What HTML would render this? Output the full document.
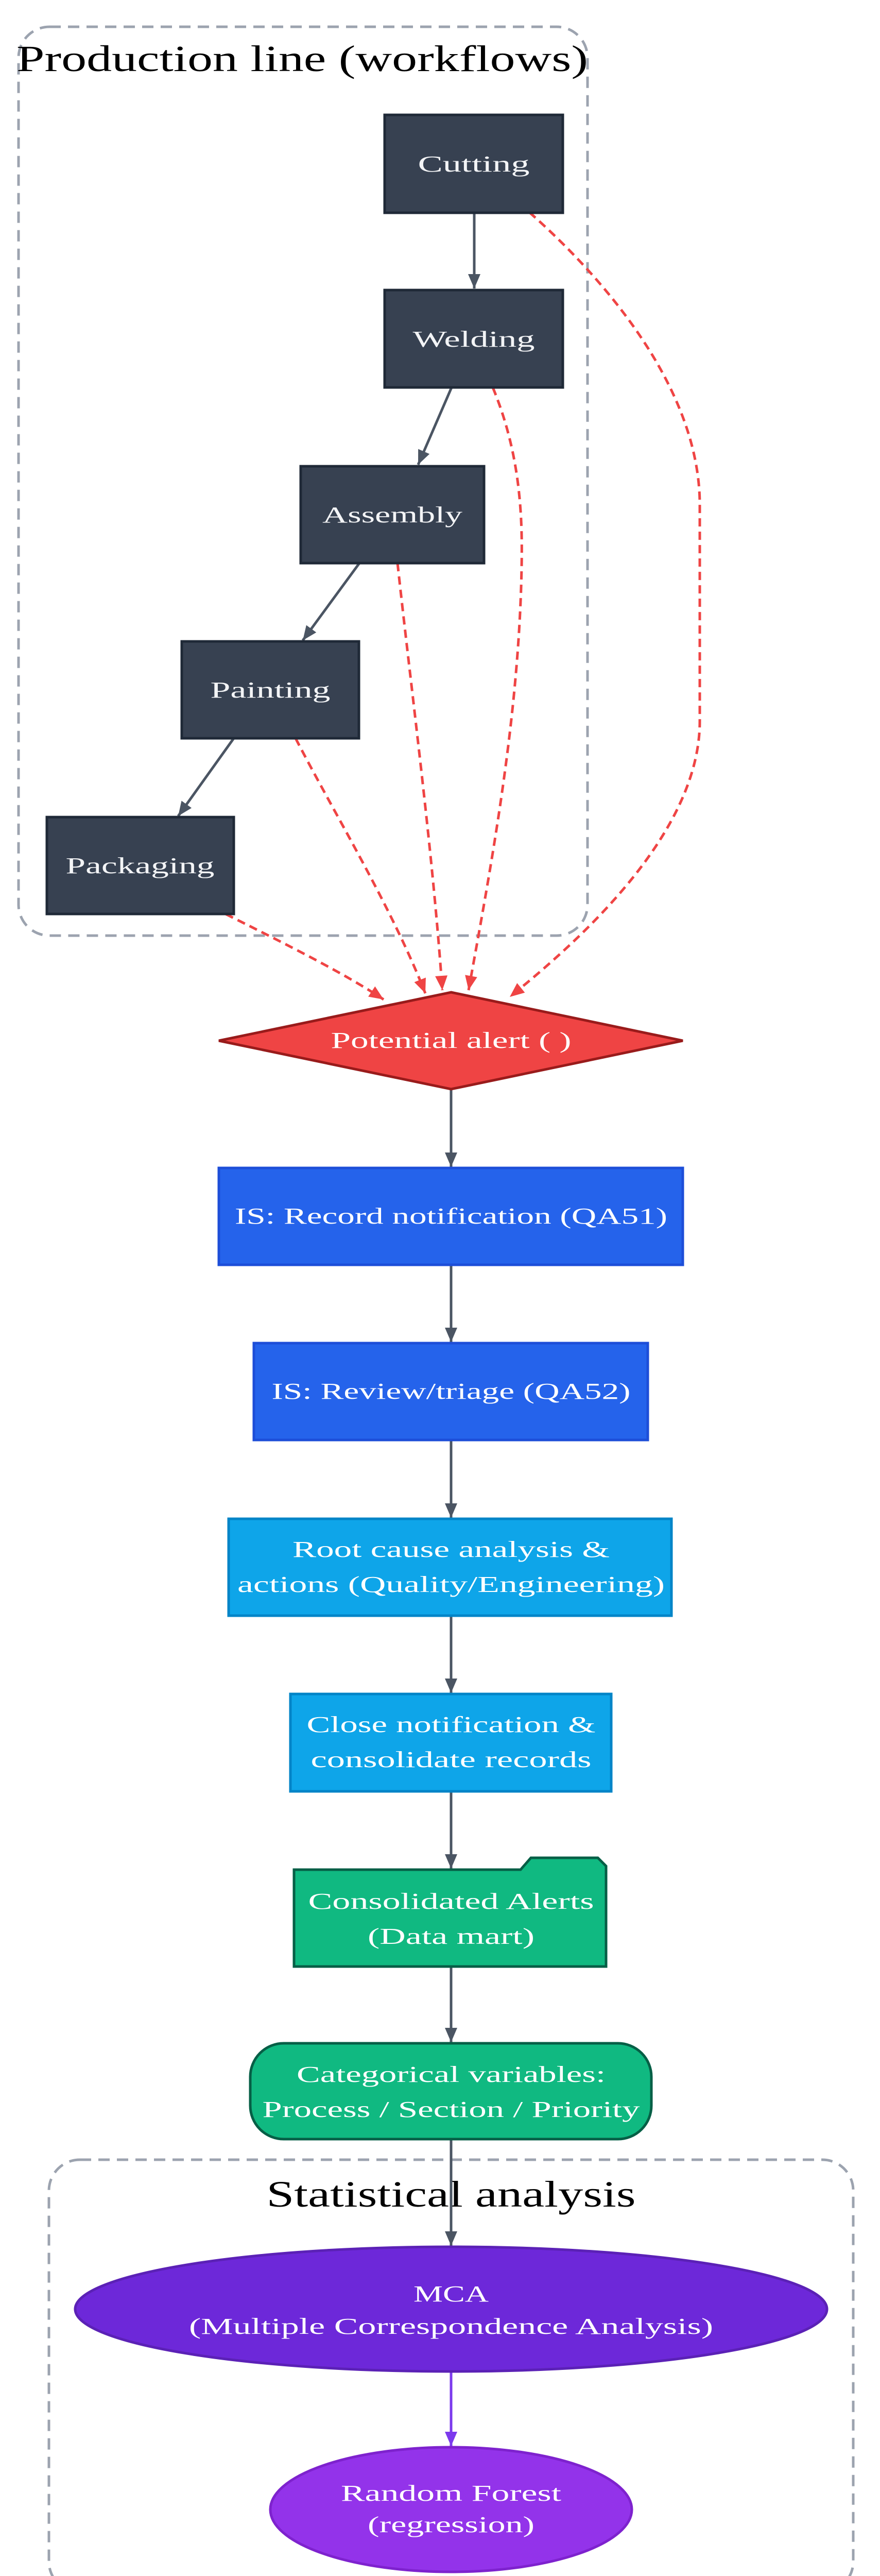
<!DOCTYPE html>
<html><head><meta charset="utf-8"><style>html,body{margin:0;padding:0;background:#fff;width:1709px;height:5076px;overflow:hidden}svg{display:block}</style></head>
<body>
<svg width="1709" height="5076" viewBox="0 0 1709 5076" xmlns="http://www.w3.org/2000/svg" font-family="'Liberation Serif', serif">
<defs>
<marker id="ag" markerWidth="10" markerHeight="10" refX="9" refY="5" orient="auto" markerUnits="userSpaceOnUse" viewBox="0 0 10 10" style="overflow:visible"><path d="M-28,-12 L0,0 L-28,12 Z" transform="translate(9,5)" fill="#4b5563"/></marker>
<marker id="ar" markerWidth="10" markerHeight="10" refX="9" refY="5" orient="auto" markerUnits="userSpaceOnUse" viewBox="0 0 10 10" style="overflow:visible"><path d="M-28,-12 L0,0 L-28,12 Z" transform="translate(9,5)" fill="#ef4444"/></marker>
<marker id="ap" markerWidth="10" markerHeight="10" refX="9" refY="5" orient="auto" markerUnits="userSpaceOnUse" viewBox="0 0 10 10" style="overflow:visible"><path d="M-28,-12 L0,0 L-28,12 Z" transform="translate(9,5)" fill="#7c3aed"/></marker>
</defs>

<!-- clusters -->
<rect x="36" y="52" width="1105" height="1764" rx="60" fill="none" stroke="#9ca3af" stroke-width="5" stroke-dasharray="22,14"/>
<text x="587" y="138" font-size="72" text-anchor="middle" textLength="1110" lengthAdjust="spacingAndGlyphs">Production line (workflows)</text>
<rect x="95" y="4192" width="1562" height="840" rx="60" fill="none" stroke="#9ca3af" stroke-width="5" stroke-dasharray="22,14"/>
<text x="876" y="4283" font-size="72" text-anchor="middle" textLength="717" lengthAdjust="spacingAndGlyphs">Statistical analysis</text>

<!-- red dashed edges -->
<g fill="none" stroke="#ef4444" stroke-width="5" stroke-dasharray="16,10">
<path d="M1028,412 C1150,520 1359,740 1359,980 L1359,1400 C1359,1620 1120,1830 990,1935" marker-end="url(#ar)"/>
<path d="M957,752 C1010,880 1015,1000 1013,1100 C1008,1400 950,1700 910,1922" marker-end="url(#ar)"/>
<path d="M772,1093 C800,1350 840,1650 859,1922" marker-end="url(#ar)"/>
<path d="M574,1433 C650,1580 760,1760 826,1928" marker-end="url(#ar)"/>
<path d="M438,1774 C560,1835 670,1890 745,1940" marker-end="url(#ar)"/>
</g>

<!-- grey edges -->
<g fill="none" stroke="#4b5563" stroke-width="5">
<path d="M921,414 L921,560" marker-end="url(#ag)"/>
<path d="M877,752 L812,902" marker-end="url(#ag)"/>
<path d="M698,1093 L588,1243" marker-end="url(#ag)"/>
<path d="M454,1433 L346,1584" marker-end="url(#ag)"/>
<path d="M876,2114 L876,2265" marker-end="url(#ag)"/>
<path d="M876,2455 L876,2605" marker-end="url(#ag)"/>
<path d="M876,2795 L876,2946" marker-end="url(#ag)"/>
<path d="M876,3136 L876,3286" marker-end="url(#ag)"/>
<path d="M876,3477 L876,3627" marker-end="url(#ag)"/>
<path d="M876,3817 L876,3964" marker-end="url(#ag)"/>
<path d="M876,4154 L876,4359" marker-end="url(#ag)"/>
</g>
<path d="M876,4603 L876,4748" fill="none" stroke="#7c3aed" stroke-width="5" marker-end="url(#ap)"/>

<!-- production nodes -->
<g fill="#374151" stroke="#1f2937" stroke-width="5">
<rect x="747" y="223" width="346" height="190"/>
<rect x="747" y="563" width="346" height="189"/>
<rect x="584" y="905" width="356" height="188"/>
<rect x="353" y="1245" width="344" height="188"/>
<rect x="91" y="1586" width="363" height="188"/>
</g>
<g fill="#f3f4f6" font-size="44" text-anchor="middle">
<text x="920" y="333" textLength="217" lengthAdjust="spacingAndGlyphs">Cutting</text>
<text x="920" y="673" textLength="237" lengthAdjust="spacingAndGlyphs">Welding</text>
<text x="762" y="1014" textLength="272" lengthAdjust="spacingAndGlyphs">Assembly</text>
<text x="525" y="1354" textLength="233" lengthAdjust="spacingAndGlyphs">Painting</text>
<text x="272" y="1695" textLength="289" lengthAdjust="spacingAndGlyphs">Packaging</text>
</g>

<!-- diamond -->
<polygon points="876,1926 1326,2020 876,2114 425,2020" fill="#ef4444" stroke="#991b1b" stroke-width="5"/>
<text x="876" y="2034" fill="#fff" font-size="44" text-anchor="middle" textLength="467" lengthAdjust="spacingAndGlyphs">Potential alert ( )</text>

<!-- flow nodes -->
<rect x="425" y="2267" width="901" height="188" fill="#2563eb" stroke="#1d4ed8" stroke-width="5"/>
<text x="876" y="2375" fill="#fff" font-size="44" text-anchor="middle" textLength="840" lengthAdjust="spacingAndGlyphs">IS: Record notification (QA51)</text>
<rect x="493" y="2607" width="765" height="188" fill="#2563eb" stroke="#1d4ed8" stroke-width="5"/>
<text x="876" y="2715" fill="#fff" font-size="44" text-anchor="middle" textLength="697" lengthAdjust="spacingAndGlyphs">IS: Review/triage (QA52)</text>
<rect x="444" y="2948" width="860" height="188" fill="#0ea5e9" stroke="#0284c7" stroke-width="5"/>
<text x="876" y="3022" fill="#fff" font-size="44" text-anchor="middle" textLength="616" lengthAdjust="spacingAndGlyphs">Root cause analysis &amp;</text>
<text x="876" y="3090" fill="#fff" font-size="44" text-anchor="middle" textLength="830" lengthAdjust="spacingAndGlyphs">actions (Quality/Engineering)</text>
<rect x="564" y="3288" width="623" height="189" fill="#0ea5e9" stroke="#0284c7" stroke-width="5"/>
<text x="876" y="3362" fill="#fff" font-size="44" text-anchor="middle" textLength="561" lengthAdjust="spacingAndGlyphs">Close notification &amp;</text>
<text x="876" y="3430" fill="#fff" font-size="44" text-anchor="middle" textLength="545" lengthAdjust="spacingAndGlyphs">consolidate records</text>
<path d="M571,3629 L1011,3629 L1031,3606 L1161,3606 L1177,3622 L1177,3817 L571,3817 Z" fill="#10b981" stroke="#065f46" stroke-width="5"/>
<text x="876" y="3705" fill="#fff" font-size="44" text-anchor="middle" textLength="555" lengthAdjust="spacingAndGlyphs">Consolidated Alerts</text>
<text x="876" y="3773" fill="#fff" font-size="44" text-anchor="middle" textLength="324" lengthAdjust="spacingAndGlyphs">(Data mart)</text>
<rect x="486" y="3966" width="779" height="186" rx="65" fill="#10b981" stroke="#065f46" stroke-width="5"/>
<text x="876" y="4041" fill="#fff" font-size="44" text-anchor="middle" textLength="600" lengthAdjust="spacingAndGlyphs">Categorical variables:</text>
<text x="876" y="4109" fill="#fff" font-size="44" text-anchor="middle" textLength="733" lengthAdjust="spacingAndGlyphs">Process / Section / Priority</text>

<!-- stats -->
<ellipse cx="876" cy="4482" rx="730" ry="121" fill="#6d28d9" stroke="#5b21b6" stroke-width="5"/>
<text x="876" y="4467" fill="#fff" font-size="44" text-anchor="middle" textLength="146" lengthAdjust="spacingAndGlyphs">MCA</text>
<text x="876" y="4530" fill="#fff" font-size="44" text-anchor="middle" textLength="1018" lengthAdjust="spacingAndGlyphs">(Multiple Correspondence Analysis)</text>
<ellipse cx="876" cy="4871" rx="351" ry="121" fill="#9333ea" stroke="#7e22ce" stroke-width="5"/>
<text x="876" y="4854" fill="#fff" font-size="44" text-anchor="middle" textLength="428" lengthAdjust="spacingAndGlyphs">Random Forest</text>
<text x="876" y="4915" fill="#fff" font-size="44" text-anchor="middle" textLength="324" lengthAdjust="spacingAndGlyphs">(regression)</text>
</svg>
</body></html>
